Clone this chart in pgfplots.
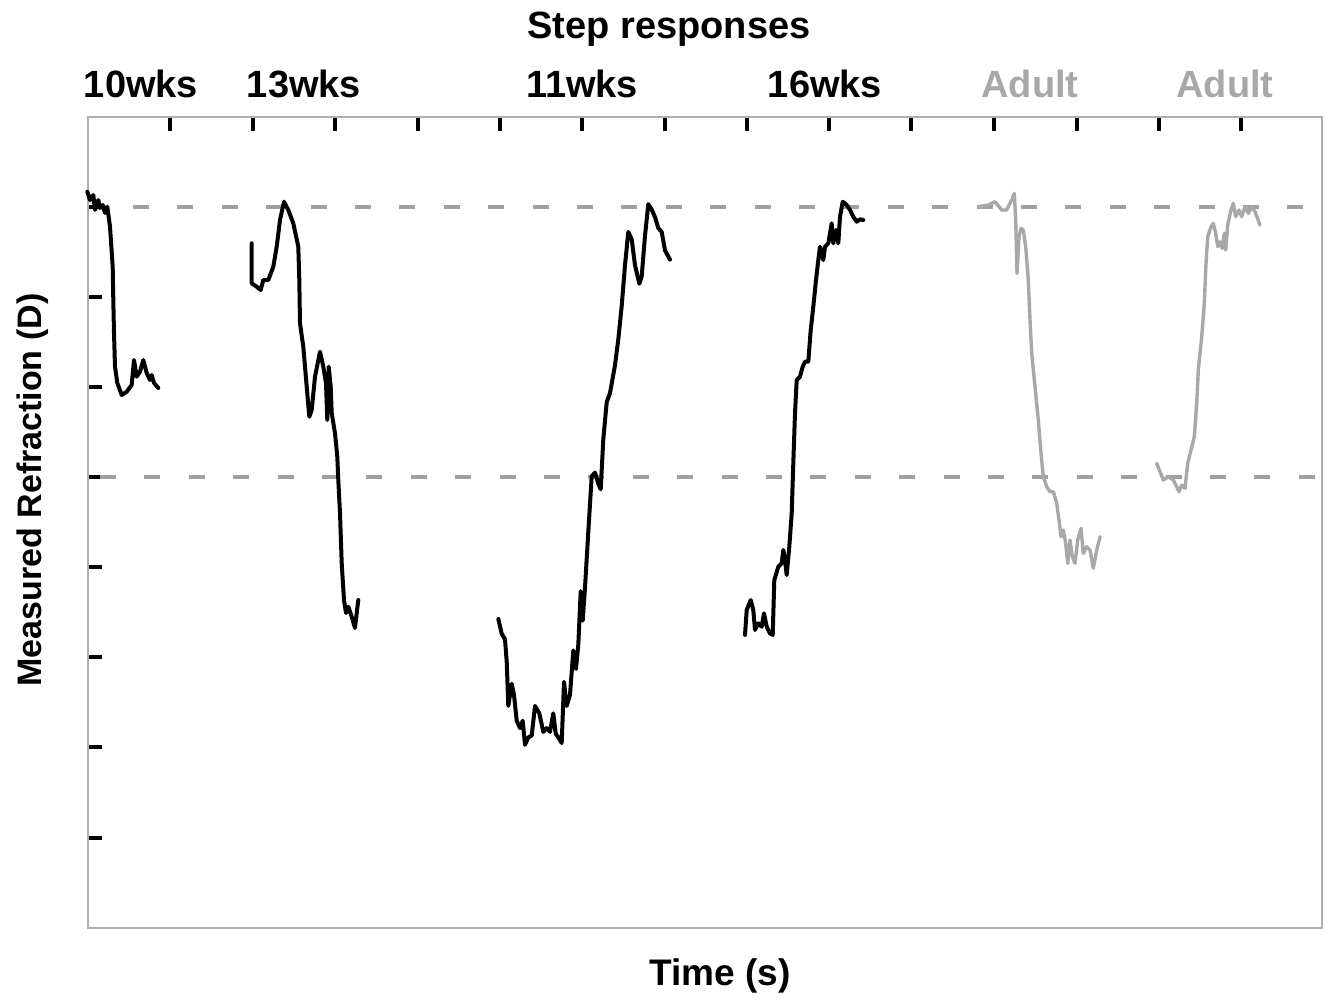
\documentclass[border=0pt]{standalone}
\usepackage{pgfplots}
\pgfplotsset{compat=1.18}
\usepackage{fontspec}
\setmainfont{Liberation Sans}
\definecolor{adultgrey}{RGB}{168,168,168}
\definecolor{dashgrey}{RGB}{160,160,160}
\definecolor{framegrey}{RGB}{175,175,175}
\begin{document}
\begin{tikzpicture}
\begin{axis}[
  scale only axis,
  width=617pt, height=405.5pt,
  xmin=88, xmax=1322, ymin=117, ymax=928,
  y dir=reverse,
  clip=false,
  axis line style={framegrey, line width=1pt},
  xtick={170,253,335,418,500,582,665,747,829,911,994,1077,1159,1241},
  ytick={207,297,387,477,567,657,747,838},
  xticklabels={}, yticklabels={},
  xtick pos=right, ytick pos=left,
  tick align=inside,
  major tick length=7pt,
  tick style={black, line width=1.8pt},
  every axis plot/.append style={line join=round, line cap=round},
]
% invisible frame to fix the page proportions
\path (axis cs:0,0) rectangle (axis cs:1328,997);
% reference levels
\addplot[dashgrey, line width=1.7pt, line cap=butt, dash pattern=on 8pt off 14.2pt] coordinates {(133,207) (1312,207)};
\addplot[dashgrey, line width=1.7pt, line cap=butt, dash pattern=on 8pt off 14.2pt] coordinates {(100,477) (1320,477)};
% 10wks
\addplot[black, line width=2pt] coordinates {
(87.3,191.7) (90,200) (93.3,195) (95,210) (98.3,200) (100,208) (102.7,205) (105,213) (107.3,206.7)
(110,226.7) (112.7,266.7) (113.3,300) (114,333) (115,366.7) (117.3,383) (121.7,395) (126.7,391.7)
(131.7,385) (134,360) (136.7,376.7) (140,371.7) (143.3,360) (146.7,373) (150,380) (151.7,375)
(154,383) (158.3,388)};
% 13wks
\addplot[black, line width=2pt] coordinates {
(251.7,243.3) (251.7,283.3) (256.7,286.7) (260.7,290) (263.3,280) (268.3,280) (273.3,266.7)
(276.7,246.7) (280,220) (284,201.7) (288.3,210) (293.3,223.3) (298.3,246.7) (299.3,280) (300,323.3)
(303.3,346.7) (306.7,386.7) (309.3,416.7) (311.7,410) (315,376.7) (320,351.7) (323.3,366.7)
(326,383.3) (327.3,420) (328.7,366.7) (330.7,386.7) (331.7,413) (335,433.3) (337.3,456.7)
(338.3,480) (340,513) (341.7,563) (344,600) (346,613) (348.3,606.7) (351.7,616.7) (355,628)
(356.7,613) (358.3,600)};
% 11wks
\addplot[black, line width=2pt] coordinates {
(498.3,618.9) (501.7,633.7) (505,639.3) (506.7,661.5) (508.3,705.9) (511.7,683.7) (514,694.8)
(516.7,720.7) (520,728.1) (522.7,720.7) (525,744.8) (528.3,737.4) (531.7,735.6) (535,705.9)
(539.3,713.3) (543.3,731.9) (546.7,728.1) (550,731.9) (553.3,713.3) (555.7,733.7) (558.3,737.4)
(561.7,743) (564,681.9) (566.7,705.9) (570,694.8) (573.3,650.4) (576,668.9) (578.3,644.8)
(580.7,591.1) (582.7,620.7) (585,587.4) (588.3,531.9) (591.7,476.3) (595,472.6) (598.3,483.7)
(600.7,489.3) (603.3,439.3) (606.7,402.2) (610,393) (615,365.2) (618.3,339.3) (621.7,305.9)
(625,265.2) (628.3,231.9) (631.7,239.3) (635,265.2) (639.3,283.7) (641.7,276.3) (645,235.6)
(648.3,204.1) (651.7,209.6) (655,217) (658.3,228.1) (661.7,231.9) (665,250.4) (670,259.6)};
% 16wks
\addplot[black, line width=2pt] coordinates {
(745,635) (746.7,610) (750.7,600) (753.3,610) (755,630) (758.3,623.3) (761.7,626.7) (764,613.3)
(766.7,626.7) (770,633.3) (772.7,635) (774.3,580) (778.3,566.7) (781.7,563.3) (783.3,550) (785,560)
(786.7,575) (789.3,546.7) (791.7,513.3) (793.3,463.3) (795,413.3) (796.7,380) (800,376.7)
(802.7,366.7) (805,361.7) (808.3,361.7) (810.7,330) (813.3,306.7) (816,280) (818.3,260) (820,246.7)
(823.3,260) (825,246.7) (828.3,243.3) (831.7,223.3) (833.3,243.3) (836,230) (838.3,243.3)
(840,216.7) (842.7,201.7) (846.7,205) (850,210) (853.3,216.7) (856.7,221.7) (860,219.3) (863.3,220)};
% Adult 1
\addplot[adultgrey, line width=1.7pt] coordinates {
(978.3,206.7) (988.3,205) (995,201.7) (1001.7,210) (1006.7,210) (1011.7,200) (1014.3,193.3)
(1015.7,220) (1017,273.3) (1019,236.7) (1021,228.3) (1023.3,230) (1025.7,246.7) (1028.3,280)
(1030,320) (1031.7,353.3) (1035,386.7) (1038.3,420) (1041,453.3) (1043.3,476.7) (1046.7,486.7)
(1050,491.7) (1053.3,491.7) (1056.7,503.3) (1059,520) (1061,536.7) (1063.3,530) (1065.7,543.3)
(1067.7,563.3) (1070,540) (1072.3,556.7) (1075,563.3) (1077.7,540) (1081,528.3) (1083.3,553.3)
(1086.7,546.7) (1090,550) (1093.3,568.3) (1096.7,550) (1100,536.7)};
% Adult 2
\addplot[adultgrey, line width=1.7pt] coordinates {
(1156.7,463.3) (1160,471.7) (1163.3,480) (1168.3,476.7) (1173.3,480) (1176.7,486.7) (1179,491.7)
(1181.7,485) (1185,488.3) (1187.7,463.3) (1191,450) (1194.3,436.7) (1196.7,403.3) (1198.3,370)
(1201.7,336.7) (1204.3,303.3) (1206,263.3) (1207.7,236.7) (1211,226.7) (1213.3,223.3) (1215.7,233.3)
(1217.7,246.7) (1220,241.7) (1222.3,248.3) (1224.3,233.3) (1225.7,250) (1227.7,225) (1231,210)
(1233.3,203.3) (1235.7,216.7) (1239,210) (1241.7,216.7) (1245,206.7) (1248.3,213.3) (1251.7,206.7)
(1255,211.7) (1260,225)};
% texts
\node[anchor=base, font=\fontsize{19}{22}\selectfont\bfseries] at (axis cs:669,38) {Step responses};
\node[anchor=base, font=\fontsize{19}{22}\selectfont\bfseries] at (axis cs:141,97) {10wks};
\node[anchor=base, font=\fontsize{19}{22}\selectfont\bfseries] at (axis cs:304,97) {13wks};
\node[anchor=base, font=\fontsize{19}{22}\selectfont\bfseries] at (axis cs:582,97) {11wks};
\node[anchor=base, font=\fontsize{19}{22}\selectfont\bfseries] at (axis cs:825,97) {16wks};
\node[anchor=base, text=adultgrey, font=\fontsize{19}{22}\selectfont\bfseries] at (axis cs:1030,97) {Adult};
\node[anchor=base, text=adultgrey, font=\fontsize{19}{22}\selectfont\bfseries] at (axis cs:1225,97) {Adult};
\node[anchor=base, font=\fontsize{18.5}{22}\selectfont\bfseries] at (axis cs:720,985) {Time (s)};
\node[anchor=base, rotate=90, font=\fontsize{17}{20}\selectfont\bfseries] at (axis cs:42,490) {Measured Refraction (D)};
\end{axis}
\end{tikzpicture}
\end{document}
